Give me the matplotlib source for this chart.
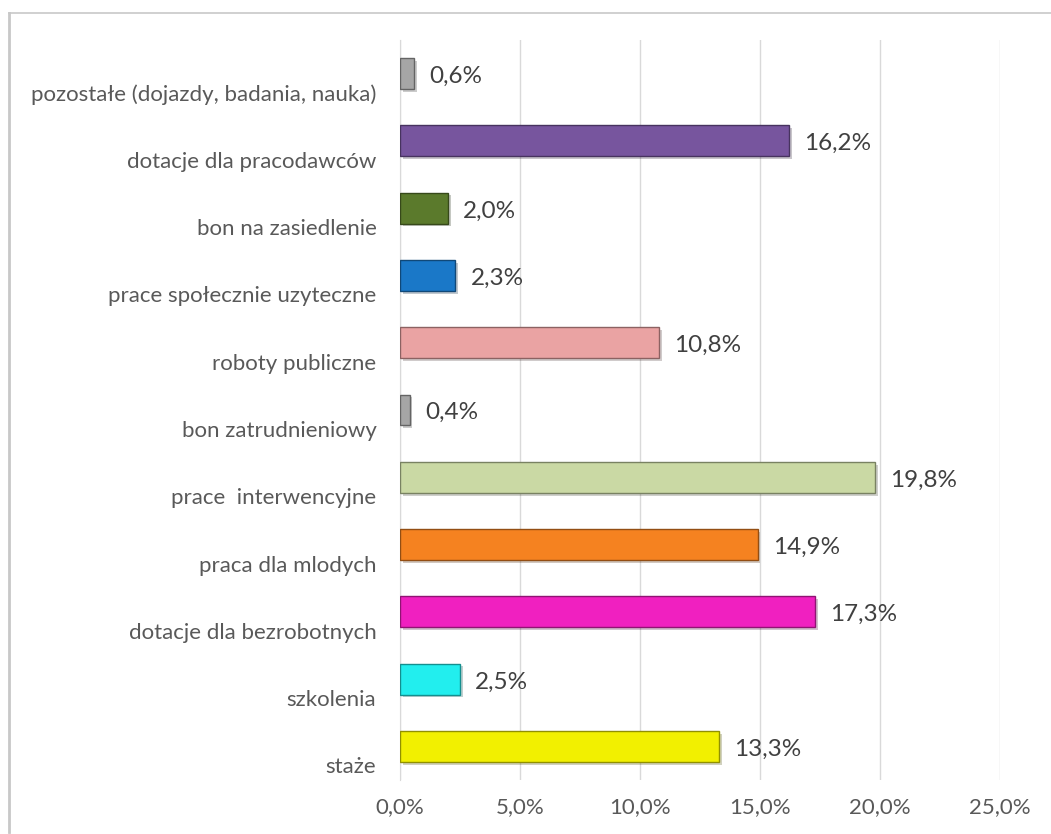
import matplotlib.pyplot as plt
import matplotlib.patheffects as pe
import matplotlib.transforms as mtransforms
from matplotlib.lines import Line2D
from matplotlib.ticker import FuncFormatter
import matplotlib.colors as mcolors

# dane (od dołu do góry)
categories = [
    "staże",
    "szkolenia",
    "dotacje dla bezrobotnych",
    "praca dla mlodych",
    "prace  interwencyjne",
    "bon zatrudnieniowy",
    "roboty publiczne",
    "prace społecznie uzyteczne",
    "bon na zasiedlenie",
    "dotacje dla pracodawców",
    "pozostałe (dojazdy, badania, nauka)",
]
values = [13.3, 2.5, 17.3, 14.9, 19.8, 0.4, 10.8, 2.3, 2.0, 16.2, 0.6]
colors = [
    "#f2f000", "#22eeee", "#f020c0", "#f58220", "#cad9a4", "#a6a6a6",
    "#eaa3a3", "#1a78c8", "#5b7a2c", "#77559e", "#a6a6a6",
]
xticks = [0, 5, 10, 15, 20, 25]

plt.rcParams['font.family'] = ['Lato', 'DejaVu Sans']

fig = plt.figure(figsize=(10.51, 8.34), dpi=100)
ax = fig.add_axes([400 / 1051, 1 - 780 / 834, 600 / 1051, 740 / 834])


def darker(c, f=0.6):
    r, g, b = mcolors.to_rgb(c)
    return (r * f, g * f, b * f)


bars = ax.barh(range(len(categories)), values, height=0.46, color=colors,
               edgecolor=[darker(c) for c in colors], linewidth=1.0, zorder=3)
for b in bars:
    b.set_path_effects([pe.SimplePatchShadow(offset=(2, -2), alpha=0.25), pe.Normal()])

for i, v in enumerate(values):
    ax.annotate(f"{v:.1f}%".replace(".", ","), xy=(v, i), xytext=(11, -2),
                textcoords="offset points", ha="left", va="center",
                fontsize=17.5, color="#404040")

ax.set_xlim(0, 25)
ax.set_ylim(-0.5, len(categories) - 0.5)
ax.set_xticks(xticks)
ax.xaxis.set_major_formatter(FuncFormatter(lambda x, p: f"{x:.1f}%".replace(".", ",")))
ax.set_yticks(range(len(categories)))
ax.set_yticklabels(categories)
ax.tick_params(axis="both", length=0, labelsize=16, labelcolor="#595959")
ax.tick_params(axis="y", pad=17)
ax.tick_params(axis="x", pad=12)

# etykiety kategorii nieco poniżej słupków
offset = mtransforms.ScaledTranslation(0, -19 / 100, fig.dpi_scale_trans)
for lbl in ax.get_yticklabels():
    lbl.set_transform(lbl.get_transform() + offset)

ax.grid(axis="x", color="#d9d9d9", linewidth=1, zorder=0)
for s in ["top", "right", "bottom"]:
    ax.spines[s].set_visible(False)
ax.spines["left"].set_color("#d9d9d9")

# ramka wykresu
fig.add_artist(Line2D([9 / 1051, 9 / 1051], [1 - 13 / 834, 1 - 832 / 834],
                      transform=fig.transFigure, color="#c8c8c8", linewidth=2))
fig.add_artist(Line2D([9 / 1051, 1], [1 - 13 / 834, 1 - 13 / 834],
                      transform=fig.transFigure, color="#c8c8c8", linewidth=1.2))

fig.savefig("out.png", dpi=100)
